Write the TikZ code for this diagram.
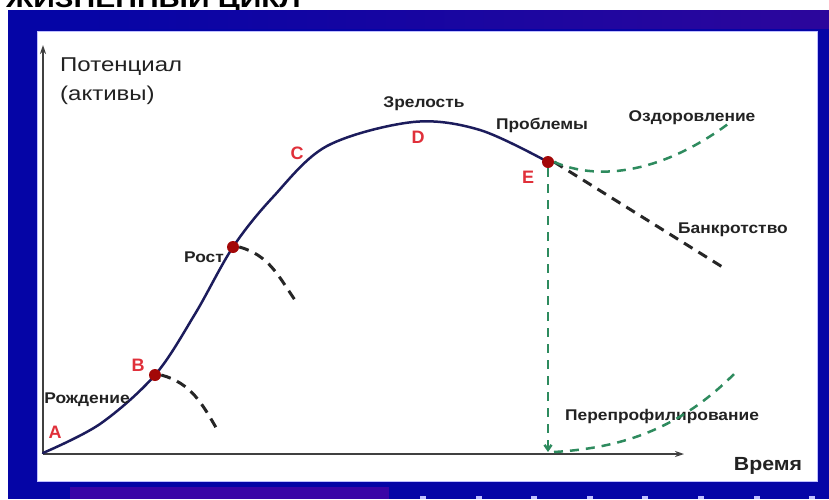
\documentclass[tikz,border=0pt]{standalone}
\usepackage{fontspec}
\usepackage{graphicx}
\setmainfont{Liberation Sans}
\usetikzlibrary{arrows.meta}
\definecolor{frameblue}{HTML}{0505A6}
\definecolor{framepurple}{HTML}{2C069C}
\definecolor{barpurple}{HTML}{3A04A6}
\definecolor{curveblue}{HTML}{1C1C5C}
\definecolor{dotred}{HTML}{A30808}
\definecolor{lettred}{HTML}{E0303A}
\definecolor{dashgreen}{HTML}{2E8B5E}
\definecolor{txtgray}{HTML}{222222}
\newcommand{\wide}[2]{\scalebox{#1}[1]{#2}}
\tikzset{
  lbl/.style={font=\bfseries\fontsize{15.5}{15.5}\selectfont, text=txtgray, inner sep=0pt},
  letter/.style={font=\bfseries\fontsize{18}{18}\selectfont, text=lettred, inner sep=0pt},
  dot/.style={circle, fill=dotred, minimum size=12pt, inner sep=0pt},
  bdash/.style={line width=3pt, black!85, dash pattern=on 10pt off 7pt},
  gdash/.style={line width=2.5pt, dashgreen, dash pattern=on 9pt off 7pt},
  axis/.style={line width=1.6pt, black!75, -{Stealth[length=9pt,width=6pt]}},
  curve/.style={line width=2.5pt, curveblue, line cap=round}
}
\begin{document}
\begin{tikzpicture}[x=1pt,y=-1pt]
\useasboundingbox (0,0) rectangle (829,499);
\clip (0,0) rectangle (829,499);
\fill[white] (0,0) rectangle (829,499);
\node[anchor=base west, font=\bfseries\fontsize{24}{24}\selectfont, inner sep=0pt] (title) at (6,7) {\wide{1.25}{ЖИЗНЕННЫЙ ЦИКЛ}};
% frame
\fill[frameblue] (8,10) rectangle (829,499);
\shade[left color=frameblue, right color=framepurple] (60,10) rectangle (829,28);
\fill[white] (37,31) rectangle (817,481);
\draw[blue!25, line width=0.8pt] (37,31) rectangle (817,481);
\fill[barpurple] (70,487) rectangle (389,499);
\foreach \x in {423,479,534,590,645,701,757,812} \fill[white!75!blue] (\x-3,496) rectangle (\x+3,499);
% axes
\coordinate (O) at (43,454);
\coordinate (Ytip) at (43,45);
\coordinate (Xtip) at (684,454);
\draw[axis] (O) -- (Ytip);
\draw[axis] (O) -- (Xtip);
\node[anchor=west, font=\fontsize{20}{20}\selectfont, text=txtgray, inner sep=0pt] (pot) at (60,67) {\wide{1.2}{Потенциал}};
\node[anchor=west, font=\fontsize{20}{20}\selectfont, text=txtgray, inner sep=0pt] (akt) at (60,95) {\wide{1.2}{(активы)}};
\node[font=\bfseries\fontsize{19}{19}\selectfont, text=txtgray, inner sep=0pt] (vremya) at (768,466) {\wide{1.12}{Время}};
% main curve
\draw[curve] plot[smooth, tension=0.55] coordinates {(43,453) (100,424) (155,375) (195,314) (233,247) (273,197) (327,146) (413,122) (480,130) (548,162)};
% dots
\node[dot] (B) at (155,375) {};
\node[dot] (R) at (233,247) {};
\node[dot] (E) at (548,162) {};
% letters
\node[letter] (lA) at (55,432) {A};
\node[letter] (lB) at (138,365) {B};
\node[letter] (lC) at (297,153) {C};
\node[letter] (lD) at (418,137) {D};
\node[letter] (lE) at (528,177) {E};
% labels
\node[lbl] (rozh) at (87,400) {\wide{1.12}{Рождение}};
\node[lbl] (rost) at (204,257) {\wide{1.12}{Рост}};
\node[lbl] (zrel) at (424,104) {\wide{1.12}{Зрелость}};
\node[lbl] (probl) at (542,125) {\wide{1.12}{Проблемы}};
\node[lbl] (ozd) at (692,118) {\wide{1.12}{Оздоровление}};
\node[lbl] (bank) at (733,230) {\wide{1.12}{Банкротство}};
\node[lbl] (perep) at (662,416) {\wide{1.12}{Перепрофилирование}};
% black dashed branches
\coordinate (Bend) at (218,431);
\coordinate (Rend) at (297,303);
\coordinate (Eend) at (724,268);
\draw[bdash] (B.east) to[out=-15,in=120] (Bend);
\draw[bdash] (R.east) to[out=-15,in=125] (Rend);
\draw[bdash] (E.east) -- (Eend);
% green dashed branches
\coordinate (Oz) at (732,121);
\coordinate (Ebot) at (548,452);
\coordinate (Pend) at (738,370);
\draw[gdash] (E.east) .. controls (600,182) and (665,172) .. (Oz);
\draw[gdash, -{Straight Barb[length=5pt,width=7pt]}] (E.south) -- (Ebot);
\draw[gdash] ([xshift=6pt]Ebot) .. controls (620,448) and (680,430) .. (Pend);
\end{tikzpicture}
\end{document}
